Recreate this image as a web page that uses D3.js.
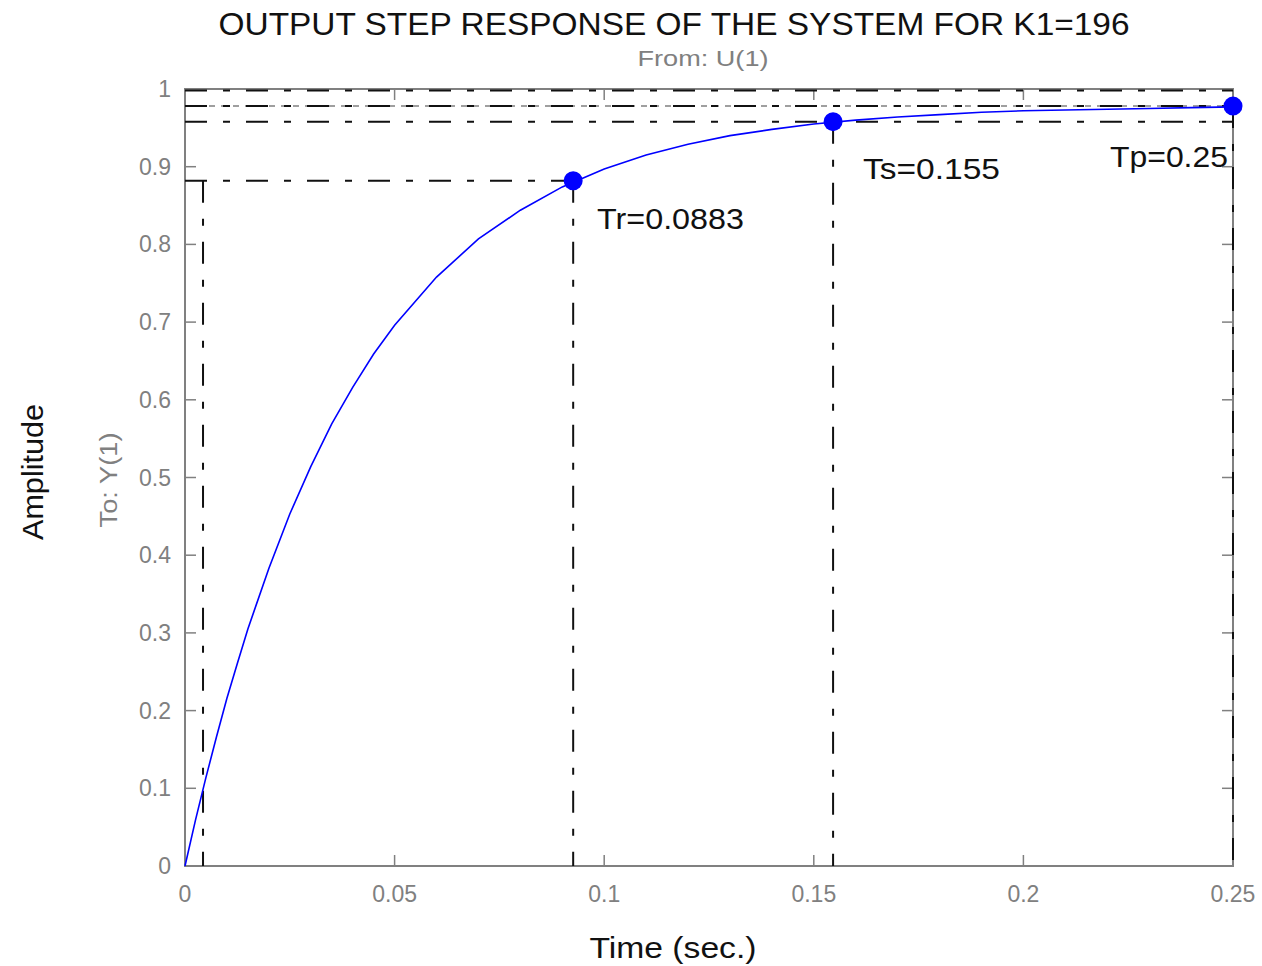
<!DOCTYPE html>
<html>
<head>
<meta charset="utf-8">
<script src="https://cdn.jsdelivr.net/npm/d3@7"></script>
<style>
  html, body { margin: 0; padding: 0; background: #fff; }
  svg { display: block; font-family: "Liberation Sans", Arial, sans-serif; }
</style>
</head>
<body>
<svg id="chart" width="1262" height="966"></svg>
<script>
// Step response samples: time (s) and amplitude
const timeSec = [0, 0.0025, 0.005, 0.0075, 0.01, 0.0125, 0.015, 0.02, 0.025, 0.03, 0.035, 0.04,
  0.045, 0.05, 0.06, 0.07, 0.08, 0.09, 0.1, 0.11, 0.12, 0.13, 0.14, 0.15, 0.16, 0.17,
  0.18, 0.19, 0.2, 0.21, 0.22, 0.23, 0.24, 0.25];
const amplitude = [0, 0.059, 0.114, 0.166, 0.216, 0.261, 0.305, 0.383, 0.453, 0.514, 0.569, 0.616,
  0.659, 0.696, 0.758, 0.807, 0.844, 0.874, 0.897, 0.915, 0.929, 0.940, 0.948, 0.955, 0.960, 0.964,
  0.967, 0.970, 0.972, 0.973, 0.974, 0.975, 0.976, 0.977];

// Step characteristics
const finalValue = 0.978;
const riseStart = 0.0043, riseEnd = 0.0926, riseLevel = 0.882;
const riseTime = 0.0883;
const settleTime = 0.155, settleAt = 0.1546, settleLow = 0.958, settleHigh = 0.998;
const peakTime = 0.25, peakValue = 0.978;

// Axis ticks
const xTicks = [0, 0.05, 0.1, 0.15, 0.2, 0.25];
const xTickLabels = ["0", "0.05", "0.1", "0.15", "0.2", "0.25"];
const yTicks = [0, 0.1, 0.2, 0.3, 0.4, 0.5, 0.6, 0.7, 0.8, 0.9, 1];
const yTickLabels = ["0", "0.1", "0.2", "0.3", "0.4", "0.5", "0.6", "0.7", "0.8", "0.9", "1"];

const svg = d3.select("#chart");
const plotL = 185, plotR = 1233, plotT = 89, plotB = 866;
const x = d3.scaleLinear().domain([0, 0.25]).range([plotL, plotR]);
const y = d3.scaleLinear().domain([0, 1]).range([plotB, plotT]);

const gray = "#808080";
const dashDot = "22,16,7,16";

// Axes box
svg.append("rect")
  .attr("x", plotL).attr("y", plotT)
  .attr("width", plotR - plotL).attr("height", plotB - plotT)
  .attr("fill", "none").attr("stroke", gray).attr("stroke-width", 2);

// Inward ticks on all four sides
const tickLen = 11;
const gx = svg.append("g").attr("stroke", gray).attr("stroke-width", 1.5);
xTicks.forEach(t => {
  gx.append("line").attr("x1", x(t)).attr("x2", x(t)).attr("y1", plotB).attr("y2", plotB - tickLen);
  gx.append("line").attr("x1", x(t)).attr("x2", x(t)).attr("y1", plotT).attr("y2", plotT + tickLen);
});
yTicks.forEach(v => {
  gx.append("line").attr("x1", plotL).attr("x2", plotL + tickLen).attr("y1", y(v)).attr("y2", y(v));
  gx.append("line").attr("x1", plotR).attr("x2", plotR - tickLen).attr("y1", y(v)).attr("y2", y(v));
});

// Tick labels
svg.append("g").selectAll("text").data(xTicks).join("text")
  .attr("x", d => x(d)).attr("y", 902)
  .attr("text-anchor", "middle").attr("font-size", 23).attr("fill", gray)
  .text((d, i) => xTickLabels[i]);
svg.append("g").selectAll("text").data(yTicks).join("text")
  .attr("x", 171).attr("y", d => y(d) + 8)
  .attr("text-anchor", "end").attr("font-size", 23).attr("fill", gray)
  .text((d, i) => yTickLabels[i]);

// steady-state reference (gray dashed)
svg.append("line")
  .attr("x1", x(0)).attr("x2", x(0.25)).attr("y1", y(finalValue)).attr("y2", y(finalValue))
  .attr("stroke", gray).attr("stroke-width", 1.5).attr("stroke-dasharray", "6,6");

// Characteristic guide lines (dash-dot, black)
const guides = svg.append("g").attr("stroke", "#111").attr("stroke-width", 2)
  .attr("stroke-dasharray", dashDot).attr("fill", "none");
// settling band
guides.append("line").attr("x1", x(0)).attr("x2", x(0.25)).attr("y1", y(settleHigh)).attr("y2", y(settleHigh));
guides.append("line").attr("x1", x(0)).attr("x2", x(0.25)).attr("y1", y(settleLow)).attr("y2", y(settleLow));
// peak level
guides.append("line").attr("x1", x(0)).attr("x2", x(peakTime)).attr("y1", y(peakValue)).attr("y2", y(peakValue));
// rise level and rise time verticals
guides.append("line").attr("x1", x(0)).attr("x2", x(riseEnd)).attr("y1", y(riseLevel)).attr("y2", y(riseLevel));
guides.append("line").attr("x1", x(riseStart)).attr("x2", x(riseStart)).attr("y1", y(riseLevel)).attr("y2", y(0));
guides.append("line").attr("x1", x(riseEnd)).attr("x2", x(riseEnd)).attr("y1", y(riseLevel)).attr("y2", y(0));
// settling time vertical
guides.append("line").attr("x1", x(settleAt)).attr("x2", x(settleAt)).attr("y1", y(settleLow)).attr("y2", y(0));
// peak time vertical
guides.append("line").attr("x1", x(peakTime)).attr("x2", x(peakTime)).attr("y1", y(peakValue)).attr("y2", y(0));

// Response curve
const line = d3.line().x((d, i) => x(timeSec[i])).y(d => y(d));
svg.append("path").datum(amplitude)
  .attr("d", line).attr("fill", "none").attr("stroke", "#0000ff").attr("stroke-width", 1.6);

// Characteristic markers
const markers = [
  { t: riseEnd, v: riseLevel },
  { t: settleAt, v: settleLow },
  { t: peakTime, v: peakValue }
];
svg.append("g").selectAll("circle").data(markers).join("circle")
  .attr("cx", d => x(d.t)).attr("cy", d => y(d.v)).attr("r", 9.5).attr("fill", "#0000ff");

// Annotations
const notes = [
  { label: "Tr=" + riseTime, tx: 597, ty: 229, w: 147 },
  { label: "Ts=" + settleTime, tx: 863, ty: 179, w: 137 },
  { label: "Tp=" + peakTime, tx: 1110, ty: 167, w: 118 }
];
svg.append("g").selectAll("text").data(notes).join("text")
  .attr("x", d => d.tx).attr("y", d => d.ty)
  .attr("font-size", 29).attr("fill", "#111")
  .attr("textLength", d => d.w).attr("lengthAdjust", "spacingAndGlyphs")
  .text(d => d.label);

// Titles
svg.append("text").attr("x", 674).attr("y", 35).attr("text-anchor", "middle")
  .attr("font-size", 32).attr("fill", "#111")
  .attr("textLength", 911).attr("lengthAdjust", "spacingAndGlyphs")
  .text("OUTPUT STEP RESPONSE OF THE SYSTEM FOR K1=196");
svg.append("text").attr("x", 703).attr("y", 66).attr("text-anchor", "middle")
  .attr("font-size", 22).attr("fill", gray)
  .attr("textLength", 131).attr("lengthAdjust", "spacingAndGlyphs")
  .text("From: U(1)");
svg.append("text").attr("x", 673).attr("y", 958).attr("text-anchor", "middle")
  .attr("font-size", 30).attr("fill", "#111")
  .attr("textLength", 167).attr("lengthAdjust", "spacingAndGlyphs")
  .text("Time (sec.)");
svg.append("text").attr("transform", "translate(43,472) rotate(-90)").attr("text-anchor", "middle")
  .attr("font-size", 30).attr("fill", "#111")
  .attr("textLength", 136).attr("lengthAdjust", "spacingAndGlyphs")
  .text("Amplitude");
svg.append("text").attr("transform", "translate(117,480) rotate(-90)").attr("text-anchor", "middle")
  .attr("font-size", 23).attr("fill", gray)
  .attr("textLength", 95).attr("lengthAdjust", "spacingAndGlyphs")
  .text("To: Y(1)");
</script>
</body>
</html>
